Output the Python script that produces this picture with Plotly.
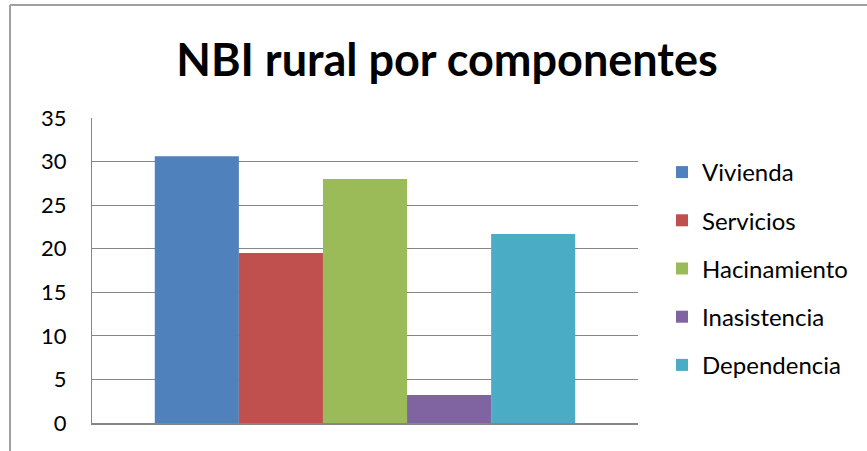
import plotly.graph_objects as go

categories = [""]
series_names = ["Vivienda", "Servicios", "Hacinamiento", "Inasistencia", "Dependencia"]
series_values = [30.6, 19.5, 28.0, 3.2, 21.7]
colors = ["#4F81BD", "#C0504D", "#9BBB59", "#8064A2", "#4BACC6"]
y_ticks = [0, 5, 10, 15, 20, 25, 30, 35]

W, H = 867, 451
L, R, T, B = 92, 638, 118, 423

fig = go.Figure()
for i, (name, val) in enumerate(zip(series_names, series_values)):
    fig.add_trace(go.Bar(x=categories, y=[val], name=name, marker_color=colors[i],
                         marker_line_width=0, legendgroup=name))

pw, ph = R - L, B - T
def px_x(x):
    return (x - L) / pw
def px_y(y):
    return (B - y) / ph

grid = "#868686"
fig.update_layout(
    width=W, height=H,
    margin=dict(l=L, r=W - R, t=T, b=H - B),
    paper_bgcolor="white", plot_bgcolor="white",
    font=dict(family="Lato, Carlito, Calibri, sans-serif", color="black"),
    title=dict(text="<b>NBI rural por componentes</b>", x=447 / W, xanchor="center",
               y=1 - 60 / H, yanchor="middle", xref="container", yref="container",
               font=dict(size=45, color="black")),
    barmode="group", bargap=0.23, bargroupgap=0,
    showlegend=True,
    legend=dict(x=px_x(662), xanchor="left", y=px_y(150), yanchor="top",
                font=dict(size=24), tracegroupgap=14, bgcolor="rgba(0,0,0,0)"),
    xaxis=dict(showticklabels=False, showgrid=False, showline=True, linecolor=grid,
               linewidth=2, ticks="", zeroline=False, fixedrange=True),
    yaxis=dict(range=[0, 35], tickvals=y_ticks, ticktext=[str(v) for v in y_ticks],
               showgrid=True, gridcolor=grid, gridwidth=1, showline=True,
               linecolor=grid, linewidth=1, ticks="", zeroline=False,
               tickfont=dict(size=22), ticklabelstandoff=20),
    shapes=[
        dict(type="line", xref="paper", yref="paper", x0=px_x(10), x1=px_x(10),
             y0=px_y(5), y1=px_y(452), line=dict(color="#A0A0A0", width=2)),
        dict(type="line", xref="paper", yref="paper", x0=px_x(10), x1=px_x(868),
             y0=px_y(5), y1=px_y(5), line=dict(color="#A0A0A0", width=2)),
    ],
)

fig.write_html("out.html", config={"displayModeBar": False},
               post_script="document.body.style.margin='0';")
